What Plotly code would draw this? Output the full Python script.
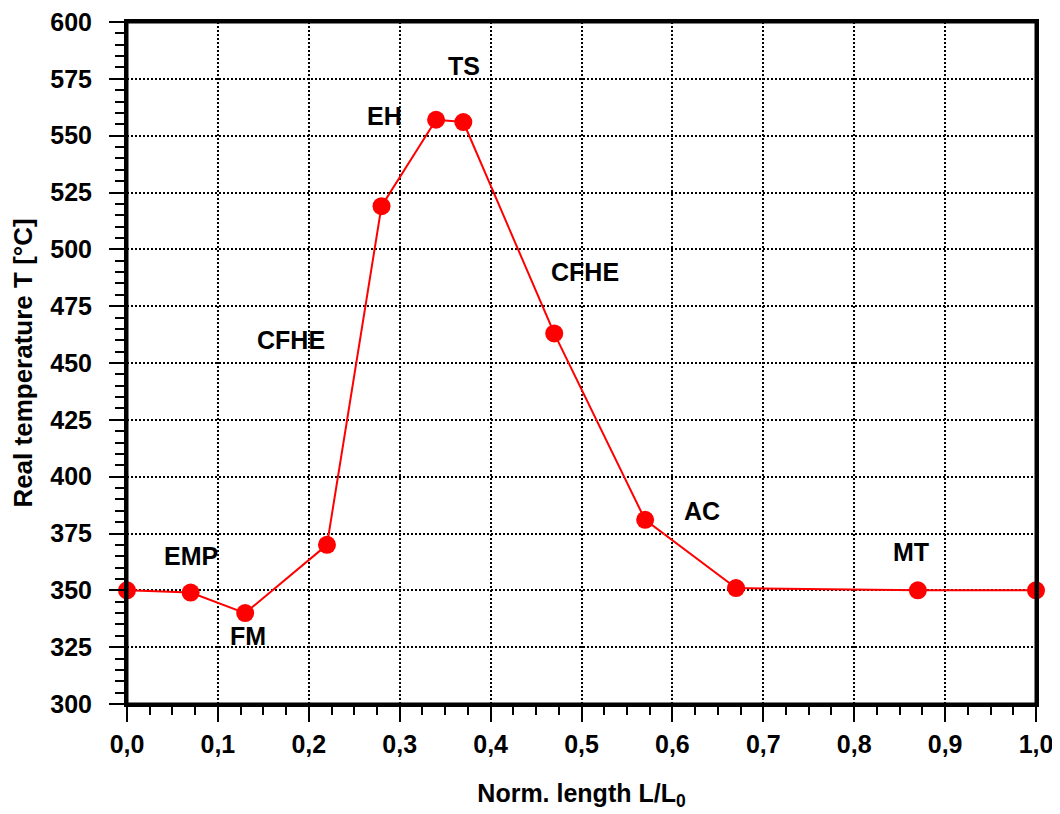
import plotly.graph_objects as go

x_vals = [0.0, 0.07, 0.13, 0.22, 0.28, 0.34, 0.37, 0.47, 0.57, 0.67, 0.87, 1.0]
t_vals = [350, 349, 340, 370, 519, 557, 556, 463, 381, 351, 350, 350]

label_text = ["EMP", "FM", "CFHE", "EH", "TS", "CFHE", "AC", "MT"]
label_x = [0.07, 0.133, 0.18, 0.283, 0.371, 0.504, 0.633, 0.862]
label_y = [365, 330, 460, 558.6, 580.6, 490, 385, 367]

FONT = "Liberation Sans, Arial, sans-serif"
TICK_SIZE = 25

fig = go.Figure()
fig.add_trace(go.Scatter(
    x=x_vals, y=t_vals, mode="lines+markers",
    line=dict(color="#ff0000", width=2),
    marker=dict(color="#ff0000", size=18),
    cliponaxis=False, showlegend=False,
))

for t, xx, yy in zip(label_text, label_x, label_y):
    fig.add_annotation(x=xx, y=yy, text="<b>%s</b>" % t, showarrow=False,
                       font=dict(family=FONT, size=25, color="black"))

axis_common = dict(
    showline=True, linecolor="black", linewidth=3, mirror=True,
    showgrid=True, gridcolor="black", gridwidth=2, griddash="2px,2px",
    ticks="outside", ticklen=15, tickwidth=2, tickcolor="black",
    zeroline=False, automargin=False, ticklabeloverflow="allow",
    tickfont=dict(family=FONT, size=TICK_SIZE, color="black"),
)

fig.update_xaxes(
    range=[0, 1], dtick=0.1, tick0=0, tickformat=".1f",
    minor=dict(dtick=0.025, ticklen=8, tickwidth=2, tickcolor="black", ticks="outside", showgrid=False),
    title=dict(text="<b>Norm. length L/L<sub>0</sub></b>", font=dict(family=FONT, size=25, color="black"), standoff=28),
    ticklabelstandoff=1,
    tickprefix="<b>", ticksuffix="</b>",
    **axis_common,
)
fig.update_yaxes(
    range=[300, 600], dtick=25, tick0=300,
    minor=dict(dtick=5, ticklen=9, tickwidth=2, tickcolor="black", ticks="outside", showgrid=False),
    title=dict(text="<b>Real temperature T [°C]</b>", font=dict(family=FONT, size=26, color="black"), standoff=14),
    ticklabelstandoff=12,
    tickprefix="<b>", ticksuffix="</b>",
    **axis_common,
)

fig.add_shape(type="rect", xref="paper", yref="paper", x0=0, y0=0, x1=1, y1=1,
              line=dict(color="black", width=3), fillcolor="rgba(0,0,0,0)", layer="above")

fig.update_layout(
    width=1052, height=806,
    margin=dict(l=119, r=24, t=14, b=110),
    plot_bgcolor="white", paper_bgcolor="white",
    separators=", ",
    font=dict(family=FONT, size=TICK_SIZE, color="black"),
)

fig.write_html("out.html")
